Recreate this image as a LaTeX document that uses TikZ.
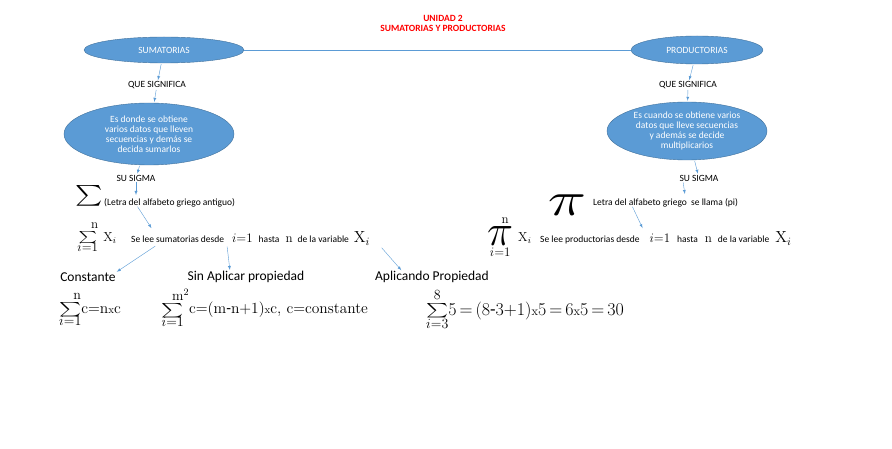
\RequirePackage{fix-cm}
\documentclass[tikz,border=0pt]{standalone}
\usepackage{amsmath}
\usepackage[no-math]{fontspec}
\setmainfont{Carlito}
\usepackage{tikz}
\definecolor{ovalblau}{RGB}{91,155,213}
\definecolor{ovalrand}{RGB}{65,113,156}
\definecolor{pfeilblau}{RGB}{91,155,213}
\usetikzlibrary{shapes.geometric, arrows}
\newcommand{\fsz}[1]{\fontsize{#1}{#1}\selectfont}
% Zeichen mit Grenzen: #1 Zeichen, #2 unten, #3 oben
\newcommand{\grop}[3]{{\renewcommand{\arraystretch}{0.8}%
  \begin{tabular}[c]{@{}c@{}}#3\\[-0.5pt]#1\\[-0.5pt]#2\end{tabular}}}
\newcommand{\summe}[1]{{\fsz{#1}\scalebox{1.45}[1]{$\textstyle\sum$}}}

\begin{document}
\begin{tikzpicture}[x=1pt, y=-1pt,
    >=latex,   % Pfeilspitzen
    oval/.style={ellipse, draw=ovalrand, fill=ovalblau, text=white, inner sep=0pt, align=center},
    klein/.style={font=\fsz{9.5}, inner sep=0pt},
    mittel/.style={font=\fsz{13.5}, inner sep=0pt},
    formel/.style={inner sep=0pt, anchor=west},
    pfeil/.style={->, pfeilblau, thin, shorten >=1pt, shorten <=1pt}]
  \useasboundingbox (0,0) rectangle (892,449);
  % Titel
  \node[red, font=\fsz{9.5}\bfseries] (titel) at (443,18) {UNIDAD 2};
  \node[red, font=\fsz{9.5}\bfseries] (untertitel) at (443,28) {SUMATORIAS Y PRODUCTORIAS};
  % Ovale oben
  \node[oval, minimum width=160, minimum height=26, font=\fsz{9.5}] (sum) at (164,50) {SUMATORIAS};
  \node[oval, minimum width=132, minimum height=28, font=\fsz{9.5}] (prod) at (697,50) {PRODUCTORIAS};
  \draw[pfeilblau] (sum) -- (prod);
  \node[klein] (frage1) at (157,85) {QUE SIGNIFICA};
  \node[klein] (frage2) at (688,85) {QUE SIGNIFICA};
  % Erklaerungen
  \node[oval, minimum width=170, minimum height=62, font=\fontsize{9.5}{10}\selectfont] (def1) at (149,134)
    {Es donde se obtiene\\varios datos que lleven\\secuencias y demás se\\decida sumarlos};
  \node[oval, minimum width=160, minimum height=58, font=\fontsize{9.5}{10}\selectfont] (def2) at (687,131)
    {Es cuando se obtiene varios\\datos que lleve secuencias\\y además se decide\\multiplicarios};
  \node[klein] (sigma1) at (136,178) {SU SIGMA};
  \node[klein] (sigma2) at (699,178) {SU SIGMA};
  % Zeichen
  \node[inner sep=0pt, font=\fsz{22}, xscale=1.25] (Sigma) at (89,196) {$\textstyle\sum$};
  \node[klein, anchor=base west] (letra1) at (104,206) {(Letra del alfabeto griego antiguo)};
  \node[inner sep=0pt, font=\fsz{48}, xscale=1.35] (Pi) at (567,205) {$\pi$};
  \node[klein, anchor=base west] (letra2) at (593,206) {Letra del alfabeto griego\ \ se llama (pi)};
  % Lesart
  \node[formel, font=\fsz{13}] (form1) at (77,238)
    {\grop{\summe{13}}{$i{=}1$}{\hspace*{14pt}$\mathrm{n}$}\hspace{5pt}$\mathrm{X}_{i}$};
  \node[klein, anchor=base west] (lee1) at (131,243)
    {Se lee sumatorias desde\hspace{8pt}{\fsz{13}$i{=}1$}\hspace{6pt}hasta\hspace{6pt}{\fsz{13}$\mathrm{n}$}\hspace{5pt}de la variable\hspace{5pt}{\fsz{16}$\mathrm{X}_{i}$}};
  \node[formel, font=\fsz{13}] (form2) at (487,238)
    {\grop{\fsz{44}$\pi$}{$i{=}1$}{\hspace*{10pt}$\mathrm{n}$}\hspace{5pt}$\mathrm{X}_{i}$};
  \node[klein, anchor=base west] (lee2) at (540,243)
    {Se lee productorias desde\hspace{10pt}{\fsz{13}$i{=}1$}\hspace{7pt}hasta\hspace{7pt}{\fsz{13}$\mathrm{n}$}\hspace{6pt}de la variable\hspace{6pt}{\fsz{16}$\mathrm{X}_{i}$}};
  % Eigenschaften
  \node[mittel] (konst) at (88,277) {Constante};
  \node[mittel] (ohne) at (246,277) {Sin Aplicar propiedad};
  \node[mittel] (mit) at (432,277) {Aplicando Propiedad};
  \node[formel, font=\fsz{15.5}] (f1) at (59,310)
    {\grop{\summe{14}}{\fsz{14}$i{=}1$}{\fsz{14}\hspace*{14pt}$\mathrm{n}$}$\mathrm{c}{=}\mathrm{n}{\scriptstyle\mathrm{x}}\mathrm{c}$};
  \node[formel, font=\fsz{15.5}] (f2) at (156,310)
    {\grop{\summe{14}}{\fsz{14}$i{=}1$}{\fsz{14}\hspace*{16pt}$\mathrm{m}^{2}$}$\mathrm{c}{=}(\mathrm{m}\text{-}\mathrm{n}{+}1){\scriptstyle\mathrm{x}}\mathrm{c},\,\mathrm{c}{=}\mathrm{constante}$};
  \node[formel, font=\fsz{18}] (f3) at (426,311)
    {\grop{\summe{15}}{\fsz{14}$i{=}3$}{\fsz{14}$8$}$5\,{=}\,(8\text{-}3{+}1){\scriptstyle\mathrm{x}}5\,{=}\,6{\scriptstyle\mathrm{x}}5\,{=}\,30$};
  % Pfeile
  \coordinate (z1) at (136,196);
  \coordinate (z2) at (152,229);
  \coordinate (z3) at (381,247);
  \coordinate (z4) at (685,195);
  \coordinate (z5) at (643,229);
  \draw[pfeil] (sum) -- (frage1);
  \draw[pfeil] (frage1) -- (def1);
  \draw[pfeil] (def1) -- (sigma1);
  \draw[pfeil] (sigma1) -- (z1);
  \draw[pfeil] ([xshift=33pt,yshift=2pt]letra1.south west) -- (z2);
  \draw[pfeil] ([xshift=25pt]lee1.south west) -- (konst.north east);
  \draw[pfeil] ([xshift=96pt]lee1.south west) -- ([xshift=-16pt]ohne.north);
  \draw[pfeil] (z3) -- ([xshift=-30pt]mit.north);
  \draw[pfeil] (prod) -- (frage2);
  \draw[pfeil] (frage2) -- (def2);
  \draw[pfeil] (def2) -- (sigma2);
  \draw[pfeil] ([xshift=-16pt]sigma2.south) -- (z4);
  \draw[pfeil] ([xshift=39pt,yshift=2pt]letra2.south west) -- (z5);
\end{tikzpicture}
\end{document}
